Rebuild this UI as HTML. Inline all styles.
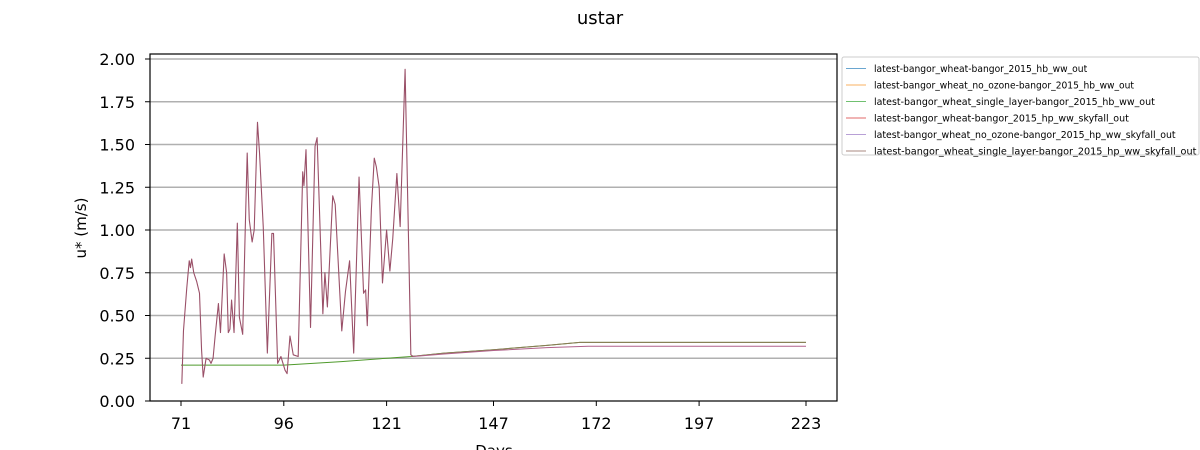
<!DOCTYPE html>
<html><head><meta charset="utf-8"><style>
body{margin:0;background:#fff;font-family:"Liberation Sans","DejaVu Sans",sans-serif}
svg{display:block}
</style></head><body>
<svg id="chart" width="1200" height="450" xmlns="http://www.w3.org/2000/svg">
<text x="600" y="24" text-anchor="middle" font-size="18" font-family="DejaVu Sans,sans-serif">ustar</text>
<g id="grid"></g><g id="series"></g><g id="axes"></g>
<text transform="translate(86,228) rotate(-90)" text-anchor="middle" font-size="15" font-family="DejaVu Sans,sans-serif">u* (m/s)</text>
<text x="494" y="456" text-anchor="middle" font-size="15" font-family="DejaVu Sans,sans-serif">Days</text>
<g id="legend"></g>
</svg>
<script>
const xTicks=[71,96,121,147,172,197,223];
const yTicks=[0,0.25,0.5,0.75,1.0,1.25,1.5,1.75,2.0];
const hpDays=[71.2,71.6,72.4,73,73.3,73.6,74.1,74.8,75.5,76,76.4,77.1,77.9,78.3,78.8,79.3,80.1,80.6,81.5,82.1,82.5,82.9,83.3,83.9,84.7,85.2,86,86.6,87.1,87.6,88.3,88.8,89.6,90.1,91,92,93.1,93.5,94.5,95.3,96.3,96.8,97.5,98.3,99.5,100.6,100.9,101.4,102.5,103.6,104.1,105.5,106,106.6,107.9,108.5,110.1,111,112,113,114.3,115.4,115.9,116.3,117.3,118,118.5,119.2,120,121,121.8,122.5,123.5,124.3,125.5,126.9,127.5];
const hpVals=[0.10,0.41,0.66,0.82,0.78,0.83,0.75,0.70,0.63,0.30,0.14,0.25,0.24,0.22,0.25,0.38,0.57,0.40,0.86,0.75,0.40,0.42,0.59,0.40,1.04,0.49,0.39,0.98,1.45,1.06,0.93,1.0,1.63,1.45,1.02,0.28,0.98,0.98,0.22,0.26,0.18,0.16,0.38,0.27,0.26,1.34,1.26,1.47,0.43,1.49,1.54,0.51,0.75,0.55,1.20,1.15,0.41,0.64,0.82,0.28,1.31,0.63,0.65,0.44,1.12,1.42,1.37,1.25,0.69,1.0,0.76,0.95,1.33,1.02,1.94,0.27,0.26];
const hpTailDays=[127.5,135,147,160,170,223];
const hpTailVals=[0.26,0.275,0.295,0.312,0.32,0.32];
const hbDays=[71,96,110,121,127,135,147,160,168,223];
const hbVals=[0.21,0.21,0.23,0.25,0.26,0.28,0.30,0.325,0.343,0.343];
const legendLabels=["latest-bangor_wheat-bangor_2015_hb_ww_out","latest-bangor_wheat_no_ozone-bangor_2015_hb_ww_out","latest-bangor_wheat_single_layer-bangor_2015_hb_ww_out","latest-bangor_wheat-bangor_2015_hp_ww_skyfall_out","latest-bangor_wheat_no_ozone-bangor_2015_hp_ww_skyfall_out","latest-bangor_wheat_single_layer-bangor_2015_hp_ww_skyfall_out"];
const legendColors=["#6aa6d0","#f8b060","#70c070","#e06868","#b8a0d6","#a88880"];

const NS="http://www.w3.org/2000/svg";
const L=150,R=837,T=54,B=401;
const X=d=>181+(d-71)*(806-181)/152;
const Y=v=>401-v*171;
function mk(tag,attrs,parent){const e=document.createElementNS(NS,tag);for(const k in attrs)e.setAttribute(k,attrs[k]);parent.appendChild(e);return e;}
const grid=document.getElementById('grid'),axes=document.getElementById('axes'),ser=document.getElementById('series'),leg=document.getElementById('legend');
yTicks.forEach(v=>{
 if(v>0){const g=mk('line',{x1:L,x2:R,y1:Y(v),y2:Y(v),stroke:'#b0b0b0','stroke-width':1.6},grid);
 
 }
 mk('line',{x1:L-5,x2:L,y1:Y(v),y2:Y(v),stroke:'#000'},axes);
 const t=mk('text',{x:L-15,y:Y(v)+6,'text-anchor':'end','font-size':16,'font-family':'DejaVu Sans,sans-serif'},axes);
 t.textContent=v.toFixed(2);
 
 
});
xTicks.forEach(d=>{
 mk('line',{x1:X(d),x2:X(d),y1:B,y2:B+5,stroke:'#000'},axes);
 const t=mk('text',{x:X(d),y:B+28,'text-anchor':'middle','font-size':16,'font-family':'DejaVu Sans,sans-serif'},axes);
 t.textContent=d;
 
 
});
const frame=mk('rect',{x:L,y:T,width:R-L,height:B-T,fill:'none',stroke:'#000','stroke-width':1.2},axes);


function line(ds,vs,col,w,name){
 const p=mk('polyline',{points:ds.map((d,i)=>X(d)+','+Y(vs[i])).join(' '),fill:'none',stroke:col,'stroke-width':w,'stroke-linejoin':'round'},ser);
 
 
}
line(hbDays,hbVals,'#4f9a2c',1,'series-hb');
line(hbDays.filter(d=>d>=127),hbVals.filter((v,i)=>hbDays[i]>=127),'#8a7a55',1,'series-hp-single-layer-tail');
line(hpDays,hpVals,'#9a5068',1.1,'series-hp');
line(hpTailDays,hpTailVals,'#b0608a',1,'series-hp-tail');
mk('rect',{x:842,y:57,width:357,height:98,fill:'#fff',stroke:'#ccc',rx:2},leg);
legendLabels.forEach((lab,i)=>{
 const y=68.5+i*16.5;
 const s=mk('line',{x1:846,x2:866,y1:y,y2:y,stroke:legendColors[i],'stroke-width':1},leg);
 
 
 const t=mk('text',{x:874,y:y+3.5,'font-size':9.9,'font-family':'DejaVu Sans,sans-serif',textLength:lab.length*5.2,lengthAdjust:'spacingAndGlyphs'},leg);
 t.textContent=lab;
 
 
});
</script>
</body></html>
